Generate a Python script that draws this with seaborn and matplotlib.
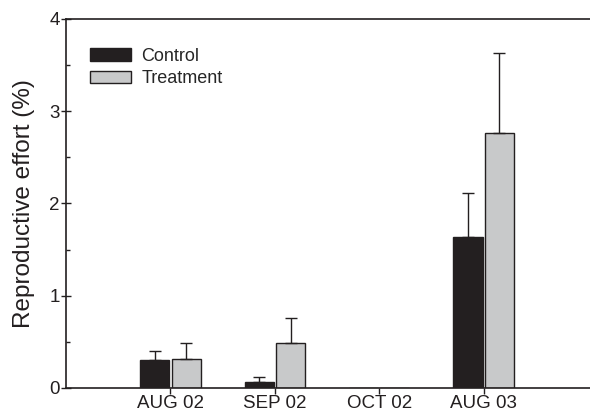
import matplotlib
matplotlib.use("Agg")
import matplotlib.pyplot as plt
import seaborn as sns
import pandas as pd
from matplotlib.ticker import MultipleLocator

months = ["AUG 02", "SEP 02", "OCT 02", "AUG 03"]
control_mean = [0.30, 0.07, 0.0, 1.64]
control_se = [0.10, 0.05, 0.0, 0.47]
treatment_mean = [0.31, 0.49, 0.0, 2.76]
treatment_se = [0.18, 0.27, 0.0, 0.87]
groups = ["Control", "Treatment"]
colors = {"Control": "#231f20", "Treatment": "#c8c9ca"}

df = pd.DataFrame({
    "month": months * 2,
    "group": ["Control"] * 4 + ["Treatment"] * 4,
    "effort": control_mean + treatment_mean,
})
errors = {"Control": control_se, "Treatment": treatment_se}

sns.set_style("ticks")
plt.rcParams["font.family"] = ["Liberation Sans", "DejaVu Sans"]
ink = "#231f20"

fig = plt.figure(figsize=(5.9, 4.18), dpi=100)
ax = fig.add_axes([0.112, 0.0718, 0.92, 0.883])

sns.barplot(data=df, x="month", y="effort", hue="group", hue_order=groups,
            order=months, palette=colors, width=0.6, gap=0.07,
            edgecolor=ink, linewidth=1.0, errorbar=None, ax=ax,
            saturation=1)

# upper-only error bars centred on each bar
for container, g in zip(ax.containers, groups):
    for patch, m, e in zip(container.patches, df[df.group == g].effort, errors[g]):
        if e > 0:
            xc = patch.get_x() + patch.get_width() / 2
            ax.errorbar(xc, m, yerr=[[0], [e]], fmt="none", ecolor=ink,
                        elinewidth=1.0, capsize=4.5, capthick=1.0, zorder=1)

ax.set_xlim(-1, 4.2)
ax.set_ylim(0, 4)
ax.yaxis.set_major_locator(MultipleLocator(1))
ax.yaxis.set_minor_locator(MultipleLocator(0.5))
ax.tick_params(axis="x", which="major", direction="out", length=4, width=1,
               labelsize=13.5, color=ink, labelcolor=ink, pad=1)
ax.tick_params(axis="y", which="major", direction="inout", length=7, width=1,
               labelsize=13.5, color=ink, labelcolor=ink, pad=1)
ax.tick_params(axis="y", which="minor", direction="in", length=3, width=1, color=ink)
ax.set_xlabel("")
ax.set_ylabel("Reproductive effort (%)", fontsize=17.5, color=ink, labelpad=10)

for side in ["left", "bottom", "top"]:
    ax.spines[side].set_linewidth(1.2)
    ax.spines[side].set_color(ink)
ax.spines["right"].set_visible(False)

handles, labels = ax.get_legend_handles_labels()
ax.legend(handles, labels, loc="upper left", frameon=False, fontsize=13,
          bbox_to_anchor=(0.044, 0.921), handlelength=2.3, handleheight=0.7,
          labelspacing=0.3, handletextpad=0.55, borderaxespad=0, borderpad=0)

fig.savefig("out.png", dpi=100)
